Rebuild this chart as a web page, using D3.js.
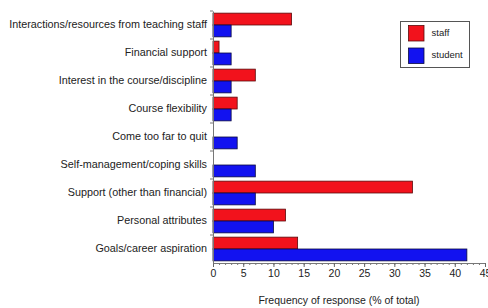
<!DOCTYPE html>
<html>
<head>
<meta charset="utf-8">
<script src="https://cdn.jsdelivr.net/npm/d3@7"></script>
<style>
  body { margin: 0; background: #fff; }
  text { font-family: "Liberation Sans", Arial, sans-serif; fill: #222; }
</style>
</head>
<body>
<div id="chart"></div>
<script>
// categories, top to bottom
var categories = [
  "Interactions/resources from teaching staff",
  "Financial support",
  "Interest in the course/discipline",
  "Course flexibility",
  "Come too far to quit",
  "Self-management/coping skills",
  "Support (other than financial)",
  "Personal attributes",
  "Goals/career aspiration"
];
var staffValues = [13, 1, 7, 4, 0, 0, 33, 12, 14];
var studentValues = [3, 3, 3, 3, 4, 7, 7, 10, 42];
var seriesNames = ["staff", "student"];
var xTicks = [0, 5, 10, 15, 20, 25, 30, 35, 40, 45];

var svgWidth = 488;
var svgHeight = 308;

var margin = { top: 11, right: 5, bottom: 45, left: 213 };
var width = svgWidth - margin.left - margin.right;
var height = svgHeight - margin.top - margin.bottom;

var svg = d3.select("#chart")
  .append("svg")
  .attr("width", svgWidth)
  .attr("height", svgHeight);

var chartGroup = svg.append("g")
  .attr("transform", `translate(${margin.left}, ${margin.top})`);

var colors = { staff: "#f2121c", student: "#1212f0" };
var strokes = { staff: "#5a0a0a", student: "#0a0a40" };

// scales
var xLinearScale = d3.scaleLinear()
  .domain([0, 45])
  .range([0, 272]);

var yBand = d3.scaleBand()
  .domain(categories)
  .range([0, height])
  .paddingInner(0)
  .paddingOuter(0);

var ySub = d3.scaleBand()
  .domain(seriesNames)
  .range([0, yBand.bandwidth()])
  .paddingOuter(0.18)
  .paddingInner(0);

// data rows
var rows = categories.map(function(c, i) {
  return { cat: c, staff: staffValues[i], student: studentValues[i] };
});

// bars
var groups = chartGroup.selectAll(".cat")
  .data(rows)
  .enter()
  .append("g")
  .attr("class", "cat")
  .attr("transform", d => `translate(0, ${yBand(d.cat)})`);

groups.selectAll("rect")
  .data(d => seriesNames.map(s => ({ key: s, value: d[s] })).filter(e => e.value > 0))
  .enter()
  .append("rect")
  .attr("x", xLinearScale(0))
  .attr("y", d => ySub(d.key))
  .attr("width", d => xLinearScale(d.value))
  .attr("height", ySub.bandwidth())
  .attr("fill", d => colors[d.key])
  .attr("stroke", d => strokes[d.key])
  .attr("stroke-width", 0.8);

// bottom axis, minor ticks
var minorAxis = d3.axisBottom(xLinearScale)
  .tickValues(d3.range(0, 46, 1))
  .tickSize(2)
  .tickFormat("");
chartGroup.append("g")
  .attr("transform", `translate(0, ${height})`)
  .call(minorAxis)
  .call(g => g.selectAll("line").attr("stroke", "#777"))
  .call(g => g.select(".domain").remove());

var bottomAxis = d3.axisBottom(xLinearScale)
  .tickValues(xTicks)
  .tickSizeOuter(0)
  .tickSize(4)
  .tickPadding(3);
var xAxis = chartGroup.append("g")
  .attr("transform", `translate(0, ${height})`)
  .call(bottomAxis);
xAxis.selectAll("text")
  .style("font-size", "10.5px")
  .attr("fill", "#222");
xAxis.selectAll("line").attr("stroke", "#666");
xAxis.select(".domain").attr("stroke", "#777");

// left axis with ticks at band boundaries
var leftAxis = d3.axisLeft(yBand).tickSize(0).tickPadding(6);
var yAxis = chartGroup.append("g").call(leftAxis);
yAxis.select(".domain").attr("stroke", "#777");
yAxis.selectAll("text")
  .style("font-size", "10.8px")
  .attr("fill", "#222");

chartGroup.append("g")
  .selectAll("line")
  .data(categories)
  .enter()
  .append("line")
  .attr("x1", -3)
  .attr("x2", 0)
  .attr("y1", d => yBand(d))
  .attr("y2", d => yBand(d))
  .attr("stroke", "#777");

// axis title
svg.append("text")
  .attr("x", 339)
  .attr("y", 304)
  .attr("text-anchor", "middle")
  .style("font-size", "10.5px")
  .text("Frequency of response (% of total)");

// legend
var legend = svg.append("g")
  .attr("transform", "translate(400.5, 21.5)");
legend.append("rect")
  .attr("width", 69)
  .attr("height", 46)
  .attr("fill", "#fff")
  .attr("stroke", "#555");

var legendItems = legend.selectAll(".item")
  .data(seriesNames)
  .enter()
  .append("g")
  .attr("transform", (d, i) => `translate(8, ${4 + i * 22.5})`);

legendItems.append("rect")
  .attr("width", 15.5)
  .attr("height", 15.5)
  .attr("fill", d => colors[d])
  .attr("stroke", d => strokes[d])
  .attr("stroke-width", 0.8);

legendItems.append("text")
  .attr("x", 23)
  .attr("y", 7)
  .attr("dy", "0.35em")
  .style("font-size", "9.5px")
  .text(d => d);
</script>
</body>
</html>
